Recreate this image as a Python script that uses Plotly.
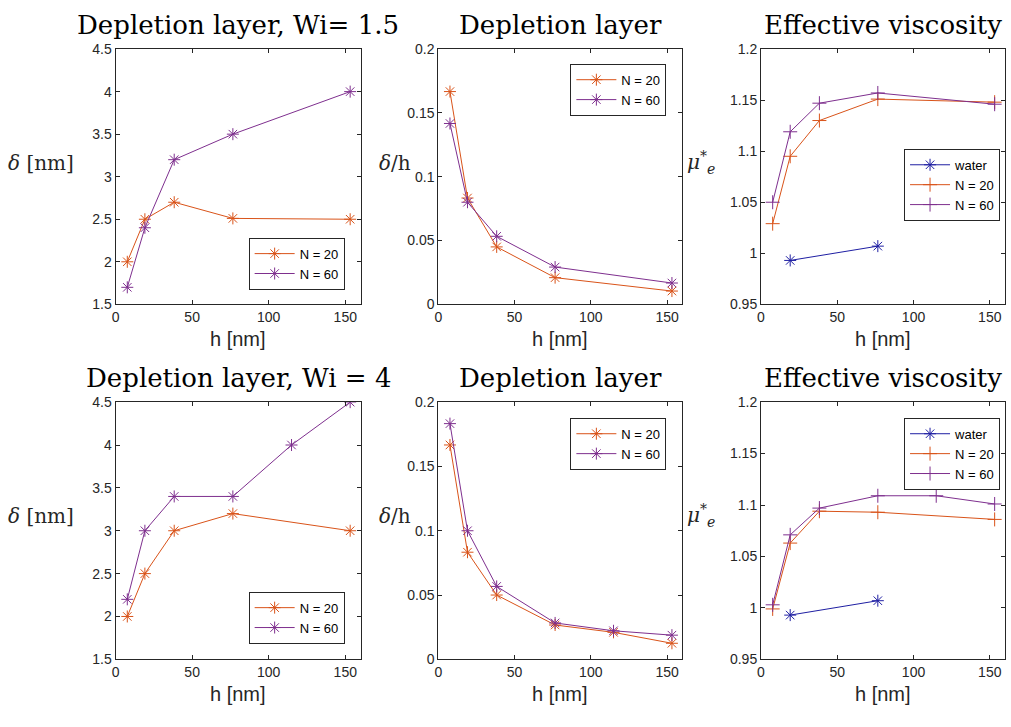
import plotly.graph_objects as go

W, H = 1011, 727

# ---------------- data ----------------
h5 = [7.66, 19.15, 38.3, 76.6, 153.2]
h6 = [7.66, 19.15, 38.3, 76.6, 114.9, 153.2]
h_water = [19.15, 76.6]

# Wi = 1.5 (top row)
d_top_N20 = [2.0, 2.5, 2.7, 2.51, 2.5]
d_top_N60 = [1.7, 2.4, 3.2, 3.5, 4.0]
dh_top_N20 = [0.1667, 0.0833, 0.045, 0.0209, 0.0104]
dh_top_N60 = [0.1417, 0.080, 0.0533, 0.0292, 0.0167]
mu_water = [0.993, 1.007]
mu_top_N20 = [1.029, 1.095, 1.130, 1.151, 1.148]
mu_top_N60 = [1.050, 1.119, 1.147, 1.157, 1.146]

# Wi = 4 (bottom row)
d_bot_N20 = [2.0, 2.5, 3.0, 3.2, 3.0]
d_bot_N60 = [2.2, 3.0, 3.4, 3.4, 4.0, 4.5]
dh_bot_N20 = [0.1667, 0.0833, 0.050, 0.0267, 0.021, 0.0125]
dh_bot_N60 = [0.1833, 0.100, 0.0567, 0.0283, 0.0222, 0.0188]
mu_bot_N20 = [0.999, 1.063, 1.094, 1.093, 1.086]
mu_bot_N60 = [1.003, 1.071, 1.097, 1.109, 1.109, 1.101]

x_ticks = [0, 50, 100, 150]
y_ticks_d = [1.5, 2, 2.5, 3, 3.5, 4, 4.5]
y_ticks_dh = [0, 0.05, 0.1, 0.15, 0.2]
y_ticks_mu = [0.95, 1, 1.05, 1.1, 1.15, 1.2]

titles_top = ["Depletion layer, Wi= 1.5", "Depletion layer", "Effective viscosity"]
titles_bot = ["Depletion layer, Wi = 4", "Depletion layer", "Effective viscosity"]

ORANGE = "#D95319"
PURPLE = "#7E2F8E"
BLUE = "#1F1FA3"
AX = "#262626"

# ---------------- layout geometry (pixels) ----------------
cols_px = [(112, 358), (436, 681), (760, 1005)]
rows_px = [(42, 303), (403, 666)]

def xd(a, b):
    return [a / W, b / W]

def yd(t, b):
    return [1 - b / H, 1 - t / H]

fig = go.Figure()

tickfont = dict(family="Liberation Sans, Arial, sans-serif", size=14, color=AX)

axis_id = 0
legend_id = 0
annotations = []

def add_axes(r, c, yticks, yrange):
    global axis_id
    axis_id += 1
    sfx = "" if axis_id == 1 else str(axis_id)
    common = dict(showline=True, linecolor=AX, linewidth=1, mirror="ticks",
                  ticks="inside", ticklen=4, tickcolor=AX, tickwidth=1,
                  showgrid=False, zeroline=False, tickfont=tickfont)
    fig.layout["xaxis" + sfx] = dict(domain=xd(*cols_px[c]), range=[0, 160],
                                     tickvals=x_ticks, ticktext=[str(v) for v in x_ticks],
                                     anchor="y" + sfx, **common)
    fig.layout["yaxis" + sfx] = dict(domain=yd(*rows_px[r]), range=yrange,
                                     tickvals=yticks, ticktext=[("%g" % v) for v in yticks],
                                     anchor="x" + sfx, **common)
    return "x" + sfx, "y" + sfx

def add_legend(x, y, xanchor, yanchor):
    global legend_id
    legend_id += 1
    name = "legend" if legend_id == 1 else "legend%d" % legend_id
    fig.layout[name] = dict(x=x / W, y=1 - y / H, xanchor=xanchor, yanchor=yanchor,
                            xref="paper", yref="paper",
                            bgcolor="white", bordercolor=AX, borderwidth=1,
                            font=dict(family="Liberation Sans, Arial, sans-serif", size=13, color="black"),
                            tracegroupgap=0, itemwidth=40)
    return name

def line(x, y, name, color, symbol, xa, ya, leg):
    fig.add_trace(go.Scatter(x=x, y=y, name=name, mode="lines+markers",
                             line=dict(color=color, width=1),
                             marker=dict(symbol=symbol, size=10, color=color,
                                         line=dict(color=color, width=1)),
                             xaxis=xa, yaxis=ya, legend=leg, showlegend=True))

AST = "asterisk-open"
PLUS = "cross-thin-open"

rows = [
    dict(d20=d_top_N20, d60=d_top_N60, x60d=h5, dh20=dh_top_N20, x20dh=h5, dh60=dh_top_N60, x60dh=h5,
         mu20=mu_top_N20, mu60=mu_top_N60, x60mu=h5, titles=titles_top,
         leg_d=(342, 288, "right", "bottom"), leg_dh=(665, 57, "right", "top"), leg_mu=(1000, 144, "right", "top")),
    dict(d20=d_bot_N20, d60=d_bot_N60, x60d=h6, dh20=dh_bot_N20, x20dh=h6, dh60=dh_bot_N60, x60dh=h6,
         mu20=mu_bot_N20, mu60=mu_bot_N60, x60mu=h6, titles=titles_bot,
         leg_d=(342, 650, "right", "bottom"), leg_dh=(665, 419, "right", "top"), leg_mu=(1000, 419, "right", "top")),
]

serif = "DejaVu Serif, Liberation Serif, serif"

for r, R in enumerate(rows):
    # delta
    xa, ya = add_axes(r, 0, y_ticks_d, [1.5, 4.5])
    lg = add_legend(*R["leg_d"])
    line(h5, R["d20"], "N = 20", ORANGE, AST, xa, ya, lg)
    line(R["x60d"], R["d60"], "N = 60", PURPLE, AST, xa, ya, lg)
    # delta/h
    xa, ya = add_axes(r, 1, y_ticks_dh, [0, 0.2])
    lg = add_legend(*R["leg_dh"])
    line(R["x20dh"], R["dh20"], "N = 20", ORANGE, AST, xa, ya, lg)
    line(R["x60dh"], R["dh60"], "N = 60", PURPLE, AST, xa, ya, lg)
    # viscosity
    xa, ya = add_axes(r, 2, y_ticks_mu, [0.95, 1.2])
    lg = add_legend(*R["leg_mu"])
    line(h_water, mu_water, "water", BLUE, AST, xa, ya, lg)
    line(h5, R["mu20"], "N = 20", ORANGE, PLUS, xa, ya, lg)
    line(R["x60mu"], R["mu60"], "N = 60", PURPLE, PLUS, xa, ya, lg)

    top, bot = rows_px[r]
    title_y = top - 25
    for c in range(3):
        cx = (cols_px[c][0] + cols_px[c][1]) / 2
        annotations.append(dict(text=R["titles"][c], x=cx / W, y=1 - title_y / H,
                                xref="paper", yref="paper", xanchor="center", yanchor="middle",
                                showarrow=False, font=dict(family=serif, size=26, color="black")))
        annotations.append(dict(text="h [nm]", x=cx / W, y=1 - (bot + 35) / H,
                                xref="paper", yref="paper", xanchor="center", yanchor="middle",
                                showarrow=False, font=dict(family="Liberation Sans, Arial, sans-serif", size=20, color=AX)))
    ylab_y = 1 - (top + 116) / H
    annotations.append(dict(text="<i>δ</i> [nm]", x=72 / W, y=ylab_y, xref="paper", yref="paper",
                            xanchor="right", yanchor="middle", showarrow=False,
                            font=dict(family=serif, size=20, color=AX)))
    annotations.append(dict(text="<i>δ</i>/h", x=411 / W, y=ylab_y, xref="paper", yref="paper",
                            xanchor="right", yanchor="middle", showarrow=False,
                            font=dict(family=serif, size=20, color=AX)))
    annotations.append(dict(text="<i>μ</i><sup>*</sup><sub><i>e</i></sub>", x=716 / W, y=ylab_y, xref="paper", yref="paper",
                            xanchor="right", yanchor="middle", showarrow=False,
                            font=dict(family=serif, size=20, color=AX)))

fig.update_layout(width=W, height=H, margin=dict(l=0, r=0, t=0, b=0),
                  paper_bgcolor="white", plot_bgcolor="white",
                  annotations=annotations)

fig.write_html("out.html")
